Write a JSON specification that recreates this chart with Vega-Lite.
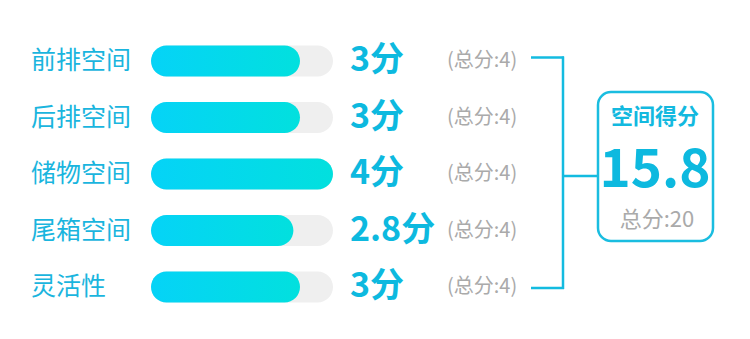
{
  "$schema": "https://vega.github.io/schema/vega-lite/v6.json",
  "width": 750,
  "height": 339,
  "autosize": {"type": "none"},
  "padding": 0,
  "background": "#ffffff",
  "view": {"stroke": null},
  "config": {"font": "Noto Sans CJK SC"},
  "data": {
    "values": [
      {"item": "前排空间", "score": 3, "max": 4, "scoreText": "3分", "maxText": "(总分:4)"},
      {"item": "后排空间", "score": 3, "max": 4, "scoreText": "3分", "maxText": "(总分:4)"},
      {"item": "储物空间", "score": 4, "max": 4, "scoreText": "4分", "maxText": "(总分:4)"},
      {"item": "尾箱空间", "score": 2.8, "max": 4, "scoreText": "2.8分", "maxText": "(总分:4)"},
      {"item": "灵活性", "score": 3, "max": 4, "scoreText": "3分", "maxText": "(总分:4)"}
    ]
  },
  "encoding": {
    "y": {
      "field": "item",
      "type": "nominal",
      "sort": null,
      "axis": null,
      "scale": {"type": "point", "padding": 1.01, "align": 0.54}
    }
  },
  "layer": [
    {
      "mark": {"type": "bar", "height": 31, "cornerRadius": 15.5, "color": "#efefef"},
      "encoding": {
        "x": {"field": "max", "type": "quantitative", "axis": null, "scale": {"domain": [0, 4], "range": [201, 333]}},
        "x2": {"datum": -1.5152}
      }
    },
    {
      "mark": {
        "type": "bar",
        "height": 31,
        "cornerRadius": 15.5,
        "color": {
          "gradient": "linear",
          "x1": 0, "y1": 0, "x2": 1, "y2": 0,
          "stops": [
            {"offset": 0, "color": "#05d3f7"},
            {"offset": 1, "color": "#02e0de"}
          ]
        }
      },
      "encoding": {
        "x": {"field": "score", "type": "quantitative"},
        "x2": {"datum": -1.5152}
      }
    },
    {
      "mark": {"type": "text", "align": "left", "baseline": "middle", "fontSize": 25, "color": "#1ab5de"},
      "encoding": {"x": {"value": 31}, "text": {"field": "item"}}
    },
    {
      "mark": {"type": "text", "align": "left", "baseline": "middle", "fontSize": 34, "fontWeight": "bold", "color": "#0db9df"},
      "encoding": {"x": {"value": 350}, "text": {"field": "scoreText"}}
    },
    {
      "mark": {"type": "text", "align": "left", "baseline": "middle", "fontSize": 20, "color": "#aaaaaa"},
      "encoding": {"x": {"value": 447}, "text": {"field": "maxText"}}
    },
    {
      "data": {"values": [{"top": "前排空间", "bottom": "灵活性"}]},
      "layer": [
        {
          "mark": {"type": "rule", "color": "#13bbe0", "strokeWidth": 2.5, "yOffset": -3.5},
          "encoding": {"y": {"datum": "前排空间"}, "x": {"value": 531}, "x2": {"value": 564}}
        },
        {
          "mark": {"type": "rule", "color": "#13bbe0", "strokeWidth": 2.5, "yOffset": 1},
          "encoding": {"y": {"datum": "灵活性"}, "x": {"value": 531}, "x2": {"value": 564}}
        },
        {
          "mark": {"type": "rule", "color": "#13bbe0", "strokeWidth": 2.5, "yOffset": -4.5, "y2Offset": 2},
          "encoding": {"x": {"value": 563}, "y": {"datum": "前排空间"}, "y2": {"datum": "灵活性"}}
        },
        {
          "mark": {"type": "rule", "color": "#13bbe0", "strokeWidth": 2.5, "yOffset": 2},
          "encoding": {"y": {"datum": "储物空间"}, "x": {"value": 563}, "x2": {"value": 598}}
        },
        {
          "mark": {"type": "rect", "cornerRadius": 13, "stroke": "#1abde0", "strokeWidth": 2.5, "fill": "#ffffff"},
          "encoding": {"x": {"value": 598}, "x2": {"value": 713}, "y": {"value": 92}, "y2": {"value": 241}}
        },
        {
          "mark": {"type": "text", "align": "center", "baseline": "middle", "fontSize": 22, "fontWeight": "bold", "color": "#13b9df", "text": "空间得分"},
          "encoding": {"x": {"value": 655}, "y": {"value": 117}}
        },
        {
          "mark": {"type": "text", "align": "center", "baseline": "middle", "fontSize": 22, "color": "#aaaaaa", "text": "总分:20"},
          "encoding": {"x": {"value": 657}, "y": {"value": 220}}
        }
      ]
    },
    {
      "transform": [{"aggregate": [{"op": "sum", "field": "score", "as": "total"}]}],
      "mark": {"type": "text", "align": "center", "baseline": "middle", "fontSize": 53, "fontWeight": "bold", "color": "#0db9df"},
      "encoding": {
        "y": {"value": 171},
        "x": {"value": 655},
        "text": {"field": "total", "type": "quantitative", "format": ".1f"}
      }
    }
  ]
}
